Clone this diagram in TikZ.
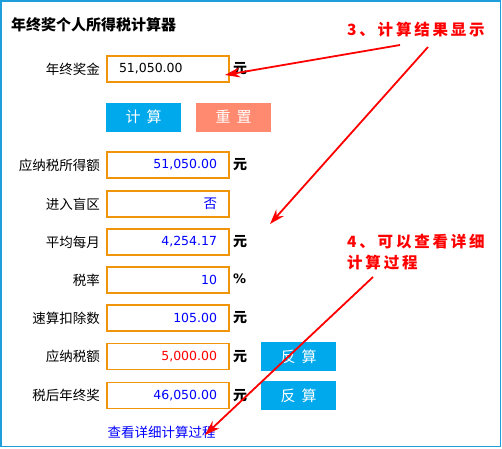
\documentclass[tikz,border=0pt]{standalone}
\usepackage{fontspec}
\newfontfamily\cjk{Noto Sans CJK SC}
\newfontfamily\numfont{DejaVu Sans}
\newfontfamily\notefont[LetterSpace=18]{Noto Sans CJK SC}
\usetikzlibrary{arrows.meta}

\definecolor{framecol}{HTML}{1E9FDC}
\definecolor{boxcol}{HTML}{F0940A}
\definecolor{btncol}{HTML}{00A8EC}
\definecolor{resetcol}{HTML}{FF8A70}

\tikzset{
  lbl/.style={anchor=east, inner sep=0, font=\cjk\fontsize{13.5}{16}\selectfont},
  field/.style={draw=boxcol, line width=1.7pt, minimum width=122pt, minimum height=26pt,
    text width=98pt, align=right, inner sep=0, text=blue,
    font=\numfont\fontsize{12.5}{15}\selectfont},
  unit/.style={anchor=west, inner sep=0, font=\cjk\bfseries\fontsize{14}{16}\selectfont},
  btn/.style={fill=btncol, text=white, minimum width=75pt, minimum height=29pt,
    inner sep=0, font=\cjk\fontsize{15}{16}\selectfont},
  note/.style={anchor=west, inner sep=0, text=red, align=left,
    font=\notefont\bfseries\fontsize{15.5}{21}\selectfont},
  callout/.style={draw=red, line width=1.8pt, -{Stealth[length=15pt,width=10pt]}},
}

\begin{document}
\begin{tikzpicture}[x=1pt,y=-1pt]
    \useasboundingbox (0,0) rectangle (502,448);
    \draw[framecol, line width=1.5pt] (0.75,0.75) rectangle (500.5,446.5);

    \node[anchor=west, inner sep=0, font=\cjk\bfseries\fontsize{15}{17}\selectfont]
      (title) at (11,25) {年终奖个人所得税计算器};

    % input row
    \node[lbl] (l0) at (100,69) {年终奖金};
    \node[field, align=left, text=black] (f0) at (168,69) {51,050.00};
    \node[unit] (u0) at (233,69) {元};

    \node[btn] (calc) at (143.5,117) {计\hspace{6pt}算};
    \node[btn, fill=resetcol] (reset) at (233.5,117) {重\hspace{6pt}置};

    % result rows
    \node[lbl] (l1) at (100,165) {应纳税所得额};
    \node[field] (f1) at (168,165) {51,050.00};
    \node[unit] (u1) at (233,165) {元};

    \node[lbl] (l2) at (100,204) {进入盲区};
    \node[field, font=\cjk\fontsize{13.5}{16}\selectfont] (f2) at (168,204) {否};

    \node[lbl] (l3) at (100,242) {平均每月};
    \node[field] (f3) at (168,242) {4,254.17};
    \node[unit] (u3) at (233,242) {元};

    \node[lbl] (l4) at (100,280) {税率};
    \node[field] (f4) at (168,280) {10};
    \node[unit, font=\numfont\bfseries\fontsize{13}{16}\selectfont] (u4) at (233,279) {\%};

    \node[lbl] (l5) at (100,318) {速算扣除数};
    \node[field] (f5) at (168,318) {105.00};
    \node[unit] (u5) at (233,318) {元};

    \node[lbl] (l6) at (100,356.5) {应纳税额};
    \node[field, text=red] (f6) at (168,356.5) {5,000.00};
    \node[unit] (u6) at (233,356.5) {元};
    \node[btn] (back1) at (298.5,356.5) {反\hspace{6pt}算};

    \node[lbl] (l7) at (100,395.5) {税后年终奖};
    \node[field] (f7) at (168,395.5) {46,050.00};
    \node[unit] (u7) at (233,395.5) {元};
    \node[btn] (back2) at (298.5,395.5) {反\hspace{6pt}算};

    \node[inner sep=0, text=blue, font=\cjk\fontsize{13.5}{16}\selectfont]
      (detail) at (161.5,432) {查看详细计算过程};

    % notes
    \node[note] (note3) at (347,30) {3、计算结果显示};
    \node[note] (note4) at (347,252.5) {4、可以查看详细\\计算过程};

    \coordinate (s1) at (400,45);
    \coordinate (e1) at (225,75);
    \coordinate (s2) at (428,47);
    \coordinate (e2) at (270,224);
    \coordinate (s3) at (373,277);
    \coordinate (e3) at (205,435);

    \draw[callout] (s1) -- (e1);
    \draw[callout] (s2) -- (e2);
    \draw[callout] (s3) -- (e3);
\end{tikzpicture}
\end{document}
